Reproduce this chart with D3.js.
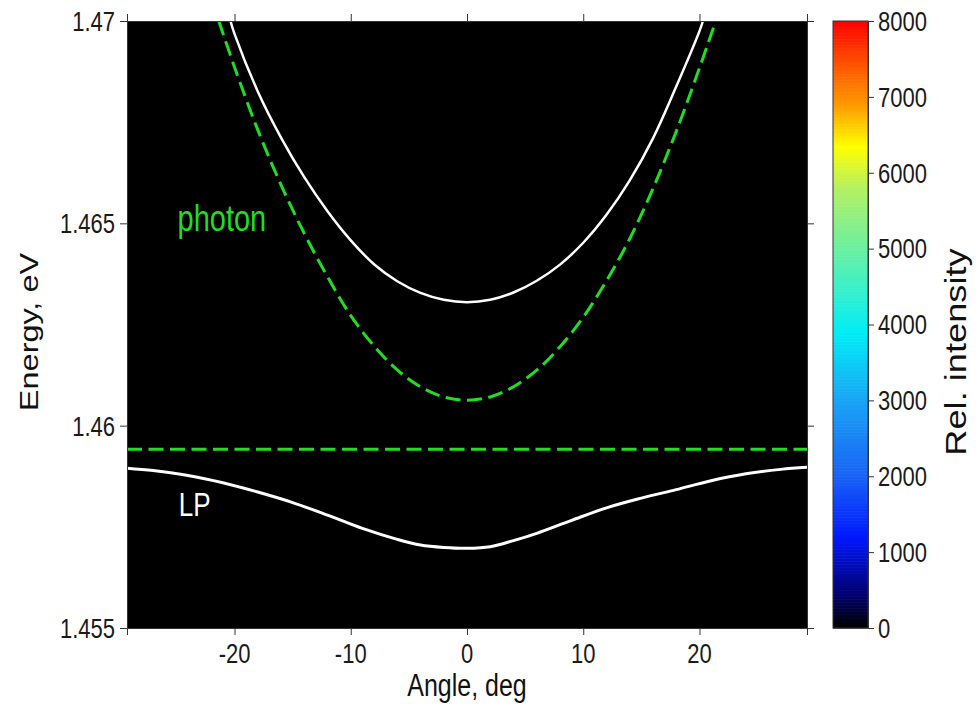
<!DOCTYPE html>
<html>
<head>
<meta charset="utf-8">
<script src="https://cdn.jsdelivr.net/npm/d3@7"></script>
<style>
  html, body { margin: 0; padding: 0; background: #ffffff; }
  svg { display: block; font-family: "Liberation Sans", Arial, sans-serif; }
</style>
</head>
<body>
<svg id="chart" width="980" height="706"></svg>
<script>
// ---------- data ----------
const xDomain = [-29.25, 29.25];
const yDomain = [1.455, 1.47];
const xTicks = [-20, -10, 0, 10, 20];
const xTickLabels = ["-20", "-10", "0", "10", "20"];
const yTicks = [1.455, 1.46, 1.465, 1.47];
const yTickLabels = ["1.455", "1.46", "1.465", "1.47"];
const cbTicks = [0, 1000, 2000, 3000, 4000, 5000, 6000, 7000, 8000];
const cbTickLabels = ["0", "1000", "2000", "3000", "4000", "5000", "6000", "7000", "8000"];
const cbDomain = [0, 8000];
const cbStopValues = [0, 450, 1200, 2000, 3000, 3900, 4500, 5100, 5800, 6350, 6900, 7500, 8000];
const cbStopColors = ["#000000", "#00006e", "#0018ff", "#1a62f5", "#1aa4f5", "#00eef5", "#3cf0c8", "#74f09a", "#b4f064", "#ffff00", "#ff9a00", "#ff4a00", "#ff0000"];

// upper polariton (white)
const upAngle  = [-20.35, -20, -18, -16, -14, -12, -10, -8, -6, -4, -2, 0, 2, 4, 6, 8, 10, 12, 14, 16, 18, 20, 20.3];
const upEnergy = [1.47000, 1.46968, 1.46826, 1.46712, 1.46614, 1.46530, 1.46458, 1.46399, 1.46357, 1.46328, 1.46311, 1.46305, 1.46311, 1.46329, 1.46358, 1.46398, 1.46452, 1.46521, 1.46606, 1.46710, 1.46838, 1.46975, 1.47000];
// cavity photon (green dashed)
const phAngle  = [-21.35, -20, -18, -16, -14, -12, -10, -8, -6, -4, -2, 0, 2, 4, 6, 8, 10, 12, 14, 16, 18, 20, 21.4];
const phEnergy = [1.47000, 1.46886, 1.46731, 1.46595, 1.46475, 1.46368, 1.46272, 1.46197, 1.46138, 1.46096, 1.46071, 1.46063, 1.46071, 1.46096, 1.46137, 1.46195, 1.46268, 1.46358, 1.46462, 1.46586, 1.46727, 1.46884, 1.47000];
// exciton (green dashed, flat)
const exAngle  = [-29.25, 29.25];
const exEnergy = [1.45942, 1.45942];
// lower polariton (white)
const lpAngle  = [-29.25, -27, -24, -21, -18, -15, -12, -9, -6, -4, -2, 0, 2, 4, 6, 9, 12, 15, 18, 21, 24, 27, 29.25];
const lpEnergy = [1.45895, 1.45889, 1.45877, 1.45859, 1.45836, 1.45810, 1.45779, 1.45746, 1.45719, 1.45705, 1.45699, 1.45697, 1.45701, 1.45716, 1.45734, 1.45766, 1.45797, 1.45821, 1.45842, 1.45864, 1.45881, 1.45892, 1.45897];

const labels = [
  { text: "photon", angle: -24.9, energy: 1.46481, color: "#22dd22", size: 29 },
  { text: "LP", angle: -24.8, energy: 1.45777, color: "#ffffff", size: 26 }
];

// ---------- layout ----------
const plot = { left: 127, right: 807, top: 21, bottom: 628 };
const cb = { left: 833, right: 868 };
const STRETCH = 1.25;   // reference text is vertically stretched

const svg = d3.select("#chart");
const x = d3.scaleLinear().domain(xDomain).range([plot.left, plot.right]);
const y = d3.scaleLinear().domain(yDomain).range([plot.bottom, plot.top]);

function addText(parent, px, py, str, opts) {
  const o = Object.assign({ size: 22, anchor: "start", rotate: 0, fill: "#1a1a1a" }, opts || {});
  return parent.append("text")
    .attr("transform", `translate(${px},${py}) scale(1,${STRETCH})` + (o.rotate ? ` rotate(${o.rotate})` : ""))
    .attr("text-anchor", o.anchor)
    .attr("font-size", o.size)
    .attr("fill", o.fill)
    .text(str);
}

svg.append("defs").append("clipPath").attr("id", "clip")
  .append("rect").attr("x", plot.left).attr("y", plot.top)
  .attr("width", plot.right - plot.left).attr("height", plot.bottom - plot.top);

// background
svg.append("rect")
  .attr("x", plot.left).attr("y", plot.top)
  .attr("width", plot.right - plot.left).attr("height", plot.bottom - plot.top)
  .attr("fill", "#000000");

const g = svg.append("g").attr("clip-path", "url(#clip)");
const line = d3.line().x(d => x(d[0])).y(d => y(d[1])).curve(d3.curveCatmullRom.alpha(0.5));
const zipped = (a, b) => a.map((v, i) => [v, b[i]]);

g.append("path").datum(zipped(exAngle, exEnergy))
  .attr("d", line).attr("fill", "none")
  .attr("stroke", "#22dd22").attr("stroke-width", 3).attr("stroke-dasharray", "15,6.5");
g.append("path").datum(zipped(phAngle, phEnergy))
  .attr("d", line).attr("fill", "none")
  .attr("stroke", "#22dd22").attr("stroke-width", 3).attr("stroke-dasharray", "15,6.5");
g.append("path").datum(zipped(upAngle, upEnergy))
  .attr("d", line).attr("fill", "none")
  .attr("stroke", "#ffffff").attr("stroke-width", 2.5);
g.append("path").datum(zipped(lpAngle, lpEnergy))
  .attr("d", line).attr("fill", "none")
  .attr("stroke", "#ffffff").attr("stroke-width", 3);

labels.forEach(l => addText(svg, x(l.angle), y(l.energy), l.text, { size: l.size, fill: l.color }));

// axes (lines via d3 axes, labels placed with the same scales)
const axisColor = "#333333";
function styleAxis(sel) {
  sel.selectAll("path.domain").attr("stroke", axisColor);
  sel.selectAll(".tick line").attr("stroke", axisColor);
}
const xAxisB = d3.axisBottom(x).tickValues(xTicks).tickFormat("").tickSizeOuter(0).tickSize(7);
const xAxisT = d3.axisTop(x).tickValues(xTicks).tickFormat("").tickSizeOuter(0).tickSize(7);
const yAxisL = d3.axisLeft(y).tickValues(yTicks).tickFormat("").tickSizeOuter(0).tickSize(7);
const yAxisR = d3.axisRight(y).tickValues(yTicks).tickFormat("").tickSizeOuter(0).tickSize(7);

svg.append("g").attr("transform", `translate(0,${plot.bottom})`).call(xAxisB).call(styleAxis);
svg.append("g").attr("transform", `translate(0,${plot.top})`).call(xAxisT).call(styleAxis);
svg.append("g").attr("transform", `translate(${plot.left},0)`).call(yAxisL).call(styleAxis);
svg.append("g").attr("transform", `translate(${plot.right},0)`).call(yAxisR).call(styleAxis);

const TICK = 22;
const halfDigit = 0.716 * TICK * STRETCH / 2;
xTicks.forEach((t, i) => addText(svg, x(t), 663, xTickLabels[i], { size: TICK, anchor: "middle" }));
yTicks.forEach((t, i) => addText(svg, 115, y(t) + halfDigit, yTickLabels[i], { size: TICK, anchor: "end" }));

// axis titles
addText(svg, (plot.left + plot.right) / 2, 696, "Angle, deg", { size: 25, anchor: "middle", fill: "#111" });
addText(svg, 38, 332, "Energy, eV", { size: 26, anchor: "middle", rotate: -90, fill: "#111" });

// colorbar
const cbY = d3.scaleLinear().domain(cbDomain).range([plot.bottom, plot.top]);
const cbColor = d3.scaleLinear().domain(cbStopValues).range(cbStopColors).interpolate(d3.interpolateRgb);
const steps = d3.range(cbDomain[0], cbDomain[1], 20);
svg.append("g").selectAll("rect").data(steps).enter().append("rect")
  .attr("x", cb.left).attr("width", cb.right - cb.left)
  .attr("y", d => cbY(d + 20)).attr("height", d => cbY(d) - cbY(d + 20) + 0.6)
  .attr("fill", d => cbColor(d + 10));
svg.append("rect").attr("x", cb.left).attr("y", plot.top)
  .attr("width", cb.right - cb.left).attr("height", plot.bottom - plot.top)
  .attr("fill", "none").attr("stroke", axisColor).attr("stroke-width", 1);
const cbAxis = d3.axisRight(cbY).tickValues(cbTicks).tickFormat("").tickSizeOuter(0).tickSize(6);
svg.append("g").attr("transform", `translate(${cb.right},0)`).call(cbAxis).call(styleAxis);
cbTicks.forEach((t, i) => addText(svg, 878, cbY(t) + halfDigit, cbTickLabels[i], { size: TICK }));
addText(svg, 966, 352, "Rel. intensity", { size: 29, anchor: "middle", rotate: -90, fill: "#111" });
</script>
</body>
</html>
